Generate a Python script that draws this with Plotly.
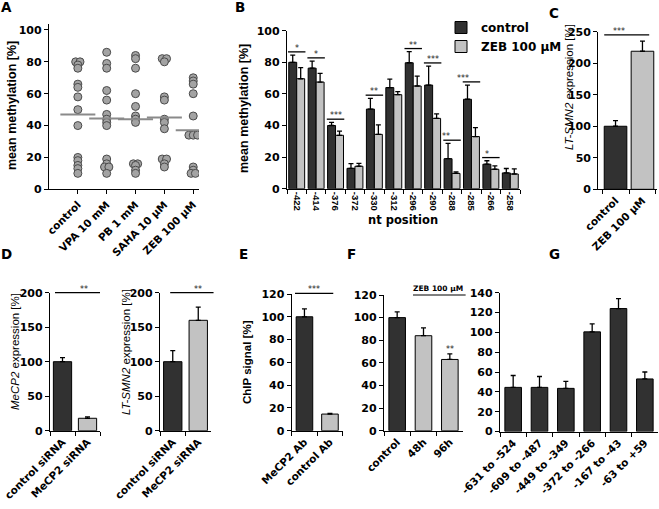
import plotly.graph_objects as go
from collections import Counter

W, H = 659, 509

# ---------------- data ----------------
a_groups = ["control", "VPA 10 mM", "PB 1 mM", "SAHA 10 µM", "ZEB 100 µM"]
a_control = [80, 80, 78, 76, 66, 64, 58, 50, 40, 20, 18, 15, 13, 10]
a_vpa = [86, 79, 76, 62, 56, 47, 44, 42, 40, 19, 16, 14, 14, 10]
a_pb = [84, 82, 76, 60, 52, 46, 44, 42, 16, 16, 15, 12, 10]
a_saha = [82, 82, 80, 58, 56, 44, 42, 38, 19, 19, 16, 14]
a_zeb = [70, 68, 66, 60, 46, 34, 34, 34, 14, 12, 10, 10]
a_means = [47, 44.5, 44, 45, 37]

b_positions = ["-422", "-414", "-376", "-372", "-330", "-312", "-296", "-290", "-288", "-285", "-266", "-258"]
b_control = [80, 76.3, 40, 12.9, 50.4, 64, 79.7, 65.6, 19, 56.6, 15.5, 10]
b_control_err = [4.6, 4.5, 2, 3, 6.8, 5.3, 7, 12, 9.7, 9, 2.2, 2.8]
b_zeb = [69.6, 67.5, 33.8, 14.2, 34.4, 59.5, 65, 44.5, 9.7, 33, 12.3, 9.3]
b_zeb_err = [7, 5.5, 2.7, 1.8, 6, 2, 6.3, 2.8, 1, 5.6, 2.1, 3.2]
b_sig = ["*", "*", "***", "", "**", "", "**", "***", "**", "***", "*", ""]

c_labels = ["control", "ZEB 100 µM"]
c_values = [100, 219]
c_err = [9, 16]

d1_labels = ["control siRNA", "MeCP2 siRNA"]
d1_values = [100, 18]
d1_err = [6, 2]

d2_labels = ["control siRNA", "MeCP2 siRNA"]
d2_values = [100, 160]
d2_err = [16, 19]

e_labels = ["MeCP2 Ab", "control Ab"]
e_values = [100, 14.6]
e_err = [7, 0.6]

f_labels = ["control", "48h", "96h"]
f_values = [100, 84, 63]
f_err = [5, 7, 5]
f_sig = ["", "", "**"]

g_labels = ["-631 to -524", "-609 to -487", "-449 to -349", "-372 to -266", "-167 to -43", "-63 to +59"]
g_values = [44.5, 44.5, 43.5, 100.5, 124, 53]
g_err = [12, 11, 7, 8, 10, 7]

# ---------------- style ----------------
DARK = "#313131"
LIGHT = "#c2c2c2"
TICKFONT = dict(family="DejaVu Sans", size=10.5, color="black", weight="bold")

# panel boxes: x pixel span, y pixel span (bottom, top), x range, y range
PANELS = {
    "":  dict(px=(49, 199), py=(189.3, 23.6), xr=[-1, 4.2], yr=[0, 104], dt=20),
    "2": dict(px=(287, 520), py=(188.7, 30.7), xr=[-0.5, 11.5], yr=[0, 100], dt=20),
    "3": dict(px=(598.3, 657), py=(189.3, 31.7), xr=[-0.64, 1.54], yr=[0, 250], dt=50),
    "4": dict(px=(50, 100), py=(430.7, 292.7), xr=[-0.5, 1.5], yr=[0, 200], dt=50),
    "5": dict(px=(160, 211), py=(430.7, 292.7), xr=[-0.5, 1.5], yr=[0, 200], dt=50),
    "6": dict(px=(291.7, 342.7), py=(430.7, 294), xr=[-0.5, 1.5], yr=[0, 120], dt=20),
    "7": dict(px=(384, 463), py=(430.7, 295), xr=[-0.5, 2.5], yr=[0, 120], dt=20),
    "8": dict(px=(500, 658), py=(431.5, 292.7), xr=[-0.5, 5.5], yr=[0, 140], dt=20),
}


def dx(x0, x1):
    return [x0 / W, x1 / W]


def dy(ybot, ytop):
    return [1 - ybot / H, 1 - ytop / H]


def xaxis(ax, **kw):
    p = PANELS[ax]
    d = dict(domain=dx(*p["px"]), anchor="y" + ax, range=p["xr"], showline=True, linecolor="black",
             linewidth=1.3, ticks="outside", ticklen=4, tickwidth=1.3, tickcolor="black",
             showgrid=False, zeroline=False, fixedrange=True, automargin=False, tickfont=TICKFONT)
    d.update(kw)
    return d


def yaxis(ax):
    p = PANELS[ax]
    return dict(domain=dy(*p["py"]), anchor="x" + ax, range=p["yr"], dtick=p["dt"], showline=True,
                linecolor="black", linewidth=1.3, ticks="outside", ticklen=4, tickwidth=1.3,
                tickcolor="black", showgrid=False, zeroline=False, fixedrange=True, automargin=False,
                tickfont=dict(family="DejaVu Sans", size=11, color="black", weight="bold"))


def spread(vals, step=0.15):
    cnt = Counter(vals)
    seen = {}
    out = []
    for v in vals:
        k = seen.get(v, 0)
        seen[v] = k + 1
        out.append((k - (cnt[v] - 1) / 2) * step)
    return out


def err(arr):
    return dict(type="data", array=arr, arrayminus=[0] * len(arr), symmetric=False,
                color="black", thickness=1.3, width=2.5)


fig = go.Figure()

# ---- A: dot plot ----
for i, vals in enumerate([a_control, a_vpa, a_pb, a_saha, a_zeb]):
    fig.add_trace(go.Scatter(
        x=[i + o for o in spread(vals)], y=vals, mode="markers", xaxis="x", yaxis="y",
        marker=dict(size=8, color="#a3a3a3", line=dict(color="#4a4a4a", width=1)),
        showlegend=False, hoverinfo="skip"))
fig.add_trace(go.Scatter(
    x=list(range(len(a_groups))), y=a_means, mode="markers", xaxis="x", yaxis="y",
    marker=dict(symbol="line-ew", size=25, line=dict(color="#8a8a8a", width=2)),
    showlegend=False, hoverinfo="skip"))

# ---- B: grouped bars ----
fig.add_trace(go.Bar(x=b_positions, y=b_control, name="control", xaxis="x2", yaxis="y2",
                     width=0.41, offset=-0.41, marker=dict(color=DARK, line=dict(color="black", width=1)),
                     error_y=err(b_control_err)))
fig.add_trace(go.Bar(x=b_positions, y=b_zeb, name="ZEB 100 µM", xaxis="x2", yaxis="y2",
                     width=0.41, offset=0, marker=dict(color=LIGHT, line=dict(color="black", width=1)),
                     error_y=err(b_zeb_err)))


# ---- other bar panels ----
def bars(labels, values, errs, ax, colors, width):
    fig.add_trace(go.Bar(x=labels, y=values, xaxis="x" + ax, yaxis="y" + ax, width=width,
                         marker=dict(color=colors, line=dict(color="black", width=1)),
                         error_y=err(errs), showlegend=False))


bars(c_labels, c_values, c_err, "3", [DARK, LIGHT], 0.84)
bars(d1_labels, d1_values, d1_err, "4", [DARK, LIGHT], 0.73)
bars(d2_labels, d2_values, d2_err, "5", [DARK, LIGHT], 0.72)
bars(e_labels, e_values, e_err, "6", [DARK, LIGHT], 0.65)
bars(f_labels, f_values, f_err, "7", [DARK, LIGHT, LIGHT], 0.63)
bars(g_labels, g_values, g_err, "8", DARK, 0.63)

cat = dict(type="category", tickson="boundaries")

fig.update_layout(
    template="none",
    width=W, height=H, margin=dict(l=0, r=0, t=0, b=0, pad=0), autosize=False,
    paper_bgcolor="white", plot_bgcolor="white", barmode="overlay",
    font=dict(family="DejaVu Sans", color="black"),
    legend=dict(x=441 / W, y=1 - 13 / H, xanchor="left", yanchor="top",
                font=dict(family="DejaVu Sans", size=12, color="black", weight="bold"),
                bgcolor="rgba(0,0,0,0)", itemwidth=30, tracegroupgap=0),
    xaxis=xaxis("", tickvals=list(range(len(a_groups))), ticktext=a_groups, tickangle=-45),
    yaxis=yaxis(""),
    xaxis2=xaxis("2", tickangle=90,
                 tickfont=dict(family="Liberation Sans", size=9.5, color="black", weight="bold"), **cat),
    yaxis2=yaxis("2"),
    xaxis3=xaxis("3", tickangle=-45, **cat),
    yaxis3=yaxis("3"),
    xaxis4=xaxis("4", tickangle=-45, **cat),
    yaxis4=yaxis("4"),
    xaxis5=xaxis("5", tickangle=-45, **cat),
    yaxis5=yaxis("5"),
    xaxis6=xaxis("6", tickangle=-45, **cat),
    yaxis6=yaxis("6"),
    xaxis7=xaxis("7", tickangle=-45, **cat),
    yaxis7=yaxis("7"),
    xaxis8=xaxis("8", tickangle=-45, **cat),
    yaxis8=yaxis("8"),
)

ann = []
shapes = []


def paper_text(x, y, text, size, angle=0, family="DejaVu Sans", weight="bold"):
    ann.append(dict(x=x / W, y=1 - y / H, xref="paper", yref="paper", text=text,
                    showarrow=False, textangle=angle, xanchor="center", yanchor="middle",
                    font=dict(family=family, size=size, color="black", weight=weight)))


# panel letters
for letter, (px, py) in {"A": (6, 7), "B": (240, 7), "C": (554, 13), "D": (6, 254),
                         "E": (243, 254), "F": (351, 254), "G": (554, 254)}.items():
    paper_text(px, py, letter, 13.5)

# axis titles
paper_text(12, 106, "mean methylation [%]", 12.5, -90, "Liberation Sans")
paper_text(244, 108, "mean methylation [%]", 12.5, -90, "Liberation Sans")
paper_text(403, 220, "nt position", 11.5)
paper_text(569, 87, "<i>LT-SMN2</i> expression [%]", 11.5, -90, "Liberation Sans", "normal")
paper_text(15, 352, "<i>MeCP2</i> expression [%]", 11.5, -90, "Liberation Sans", "normal")
paper_text(126, 352, "<i>LT-SMN2</i> expression [%]", 11.5, -90, "Liberation Sans", "normal")
paper_text(247, 362, "ChIP signal [%]", 11.5, -90, "Liberation Sans")


def to_paper(ax, x, y):
    """map data coordinates of a panel to paper fractions through its axis box"""
    p = PANELS[ax]
    fx = (x - p["xr"][0]) / (p["xr"][1] - p["xr"][0])
    fy = (y - p["yr"][0]) / (p["yr"][1] - p["yr"][0])
    px = p["px"][0] + fx * (p["px"][1] - p["px"][0])
    py = p["py"][0] + fy * (p["py"][1] - p["py"][0])
    return px / W, 1 - py / H


def sig(ax, x0, x1, y, text, xc=None):
    X0, Y = to_paper(ax, x0, y)
    X1, _ = to_paper(ax, x1, y)
    XC, _ = to_paper(ax, (x0 + x1) / 2 if xc is None else xc, y)
    shapes.append(dict(type="line", xref="paper", yref="paper",
                       x0=X0, x1=X1, y0=Y, y1=Y, line=dict(color="black", width=1.3)))
    ann.append(dict(x=XC, y=Y, xref="paper", yref="paper",
                    text=text, showarrow=False, yanchor="bottom", yshift=-3,
                    font=dict(family="DejaVu Sans", size=8, color="#222")))


# B significance
for i, s in enumerate(b_sig):
    if s:
        top = max(b_control[i] + b_control_err[i], b_zeb[i] + b_zeb_err[i]) + 2
        sig("2", i - 0.45, i + 0.45, top, s, xc=i)

sig("3", -0.42, 1.25, 245, "***")
sig("4", -0.3, 1.5, 200, "**")
sig("5", -0.1, 1.6, 200, "**")
sig("6", -0.37, 1.13, 120.5, "***")

# F annotations
for i, s in enumerate(f_sig):
    if s:
        ann.append(dict(x=i, y=f_values[i] + f_err[i] + 1, xref="x7", yref="y7", text=s,
                        showarrow=False, yanchor="bottom", yshift=-3,
                        font=dict(family="DejaVu Sans", size=8, color="#222")))
X0, Y = to_paper("7", 0.6, 120)
X1, _ = to_paper("7", 2.6, 120)
shapes.append(dict(type="line", xref="paper", yref="paper", x0=X0, x1=X1, y0=Y, y1=Y,
                   line=dict(color="black", width=1.2)))
XC, _ = to_paper("7", 1.55, 120)
ann.append(dict(x=XC, y=Y, xref="paper", yref="paper", text="ZEB 100 µM", showarrow=False,
                yanchor="bottom", yshift=0,
                font=dict(family="DejaVu Sans", size=7.5, color="black", weight="bold")))

fig.update_layout(annotations=ann, shapes=shapes)

fig.write_html("out.html", config={"displayModeBar": False},
               post_script="document.body.style.margin='0px';")
